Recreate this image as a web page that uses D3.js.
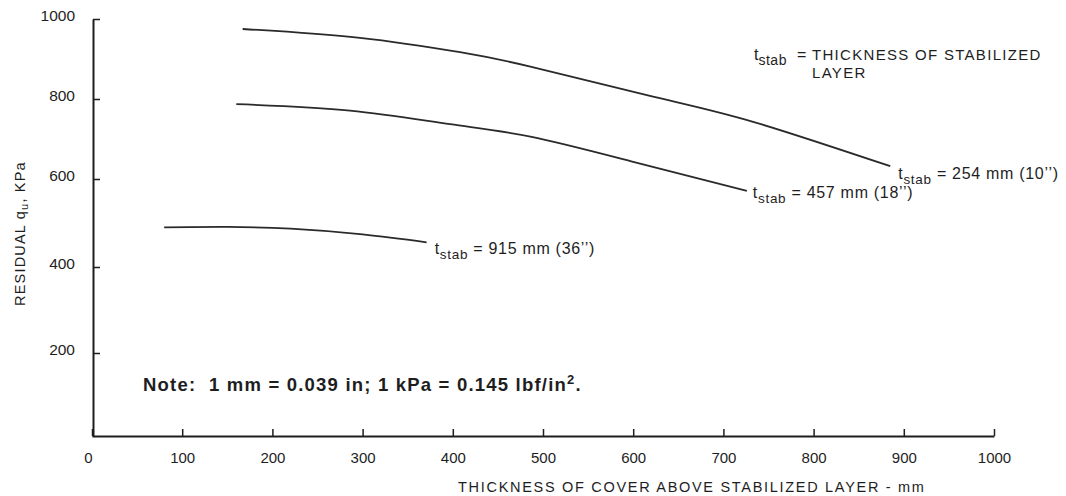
<!DOCTYPE html>
<html>
<head>
<meta charset="utf-8">
<script src="https://cdn.jsdelivr.net/npm/d3@7"></script>
<style>
  body { margin: 0; background: #fff; }
  svg { font-family: "Liberation Sans", Arial, Helvetica, sans-serif; }
</style>
</head>
<body>
<svg id="chart"></svg>
<script>
// Cover thickness (mm) and residual qu (kPa)
const cover254 = [167, 297, 408, 486, 622, 733, 885];
const qu254 = [975, 953, 917, 881, 806, 743, 632];

const cover457 = [160, 286, 397, 486, 600, 726];
const qu457 = [787, 771, 737, 706, 643, 573];

const cover915 = [80, 150, 220, 300, 371];
const qu915 = [490, 491, 487, 474, 456];

const xTicks = [0, 100, 200, 300, 400, 500, 600, 700, 800, 900, 1000];
const yTicks = [200, 400, 600, 800, 1000];

const series = [
  { label: "254 mm (10’’)", x: cover254, y: qu254 },
  { label: "457 mm (18’’)", x: cover457, y: qu457 },
  { label: "915 mm (36’’)", x: cover915, y: qu915 }
];

const width = 1066, height = 496;
const ink = '#1e1e1e';

const svg = d3.select('#chart')
  .attr('width', width)
  .attr('height', height);

svg.append('rect').attr('width', width).attr('height', height).attr('fill', '#fff');

const x = d3.scaleLinear().domain([0, 1000]).range([92, 994]);
// the scanned axis is not quite even, so the y scale follows the printed ticks
const y = d3.scaleLinear()
  .domain([0, 200, 400, 600, 800, 1000])
  .range([436, 353, 267, 179, 99, 19]);

// X axis
svg.append('g')
  .attr('transform', `translate(0,${y(0)})`)
  .call(d3.axisBottom(x).tickValues(xTicks).tickFormat(d3.format('d'))
    .tickSizeInner(-7).tickSizeOuter(0).tickPadding(16))
  .call(g => g.select('.domain').attr('stroke', ink).attr('stroke-width', 2))
  .call(g => g.selectAll('.tick line').attr('stroke', ink).attr('stroke-width', 1.5))
  .call(g => g.selectAll('.tick text').attr('fill', ink).attr('font-size', 15)
    .attr('dx', d => d === 0 ? -4 : 0));

// Y axis
svg.append('g')
  .attr('transform', `translate(${x(0) + 1},0)`)
  .call(d3.axisLeft(y).tickValues(yTicks).tickFormat(d3.format('d'))
    .tickSizeInner(-7).tickSizeOuter(0).tickPadding(18))
  .call(g => g.select('.domain').attr('stroke', ink).attr('stroke-width', 2))
  .call(g => g.selectAll('.tick line').attr('stroke', ink).attr('stroke-width', 1.5))
  .call(g => g.selectAll('.tick text').attr('fill', ink).attr('font-size', 15.5).attr('dy', '0.1em'));

// Axis titles
svg.append('text')
  .attr('x', 458).attr('y', 492)
  .attr('font-size', 14.5).attr('letter-spacing', 1.7).attr('fill', ink)
  .text('THICKNESS OF COVER ABOVE STABILIZED LAYER - mm');

const yTitle = svg.append('text')
  .attr('transform', 'translate(25,306) rotate(-90)')
  .attr('font-size', 14.5).attr('letter-spacing', 1.2).attr('fill', ink);
yTitle.append('tspan').text('RESIDUAL q');
yTitle.append('tspan').attr('font-size', 11).attr('dy', 3).text('u');
yTitle.append('tspan').attr('dy', -3).text(', KPa');

// Curves
const line = d3.line()
  .x(d => x(d[0]))
  .y(d => y(d[1]))
  .curve(d3.curveNatural);

svg.selectAll('.curve')
  .data(series)
  .enter().append('path')
  .attr('class', 'curve')
  .attr('d', s => line(s.x.map((v, i) => [v, s.y[i]])))
  .attr('fill', 'none')
  .attr('stroke', '#2a2a2a')
  .attr('stroke-width', 1.8);

// t_stab labels, placed just past the end of each curve
const labelOffset = [[8, 13], [6, 7], [8, 12]];
series.forEach((s, i) => {
  const n = s.x.length - 1;
  const t = svg.append('text')
    .attr('x', x(s.x[n]) + labelOffset[i][0])
    .attr('y', y(s.y[n]) + labelOffset[i][1])
    .attr('font-size', 16).attr('letter-spacing', 0.7).attr('fill', ink);
  t.append('tspan').text('t');
  t.append('tspan').attr('font-size', 13.5).attr('dy', 5).text('stab');
  t.append('tspan').attr('dy', -5).text(' = ' + s.label);
});

// Definition note
const def = svg.append('text')
  .attr('x', 754).attr('y', 60)
  .attr('font-size', 16).attr('fill', ink);
def.append('tspan').text('t');
def.append('tspan').attr('font-size', 14).attr('letter-spacing', 0.5).attr('dy', 5).text('stab');
def.append('tspan').attr('x', 797).attr('dy', -5).text('=');
def.append('tspan').attr('x', 812).attr('font-size', 15).attr('letter-spacing', 1.3)
  .text('THICKNESS OF STABILIZED');
svg.append('text')
  .attr('x', 812).attr('y', 78)
  .attr('font-size', 15).attr('letter-spacing', 1.3).attr('fill', ink)
  .text('LAYER');

// Unit note
const note = svg.append('text')
  .attr('x', 143).attr('y', 391)
  .style('white-space', 'pre')
  .attr('font-size', 18.5).attr('font-weight', 'bold').attr('letter-spacing', 1.2).attr('fill', ink);
note.append('tspan').text('Note:  1 mm = 0.039 in; 1 kPa = 0.145 lbf/in');
note.append('tspan').attr('font-size', 13).attr('dy', -7).text('2');
note.append('tspan').attr('dy', 7).text('.');
</script>
</body>
</html>
